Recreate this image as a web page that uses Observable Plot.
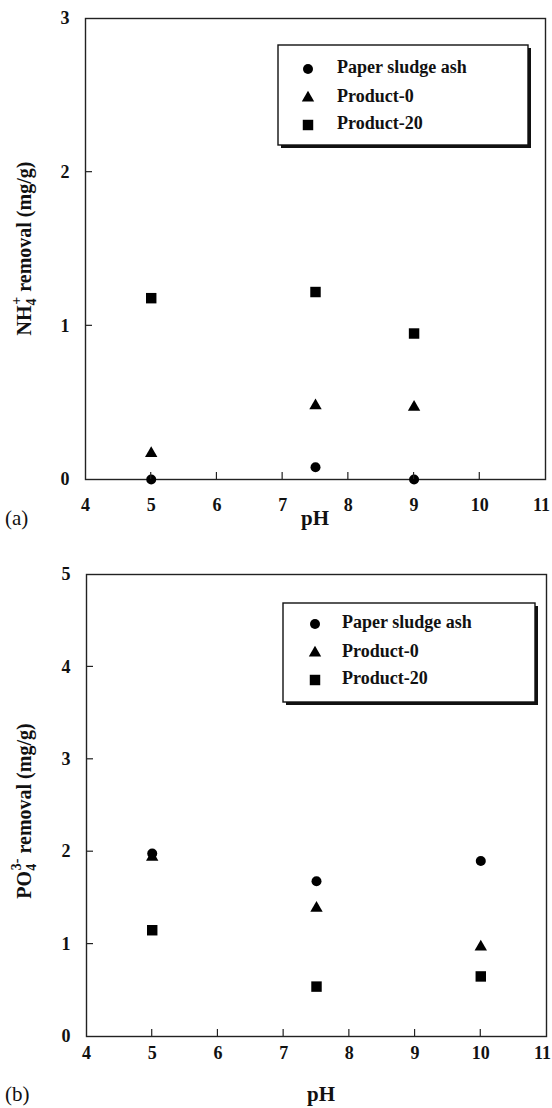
<!DOCTYPE html>
<html><head><meta charset="utf-8">
<script src="https://cdn.jsdelivr.net/npm/d3@7"></script>
<script src="https://cdn.jsdelivr.net/npm/@observablehq/plot@0.6"></script>
<style>
body{margin:0;background:#fff;}
#fig{width:552px;height:1108px;position:relative;background:#fff;}
#fig svg{display:block;position:absolute;left:0;overflow:visible;}
</style></head><body><div id="fig"></div>
<script>
// ---- data ----
const seriesNames = ["Paper sludge ash", "Product-0", "Product-20"];
const seriesSymbols = ["circle", "triangle", "square"];
const xTicks = [4, 5, 6, 7, 8, 9, 10, 11];

const pHA = [5, 7.5, 9];
const ashA = [0, 0.08, 0];
const p0A = [0.17, 0.48, 0.47];
const p20A = [1.18, 1.22, 0.95];
const yTicksA = [0, 1, 2, 3];

const pHB = [5, 7.5, 10];
const ashB = [1.98, 1.68, 1.90];
const p0B = [1.94, 1.39, 0.97];
const p20B = [1.15, 0.54, 0.65];
const yTicksB = [0, 1, 2, 3, 4, 5];

const FONT = "'Liberation Serif', 'Times New Roman', serif";
const symR = {"circle": 5, "triangle": 4.6, "square": 5.9};

function rowsOf(pH, lists) {
  const out = [];
  lists.forEach((vals, i) => vals.forEach((v, j) => out.push({pH: pH[j], value: v, series: seriesNames[i]})));
  return out;
}

function panel(cfg) {
  const rows = rowsOf(cfg.pH, cfg.lists);
  const plot = Plot.plot({
    width: 552, height: cfg.height,
    marginTop: cfg.mt, marginBottom: cfg.mb, marginLeft: cfg.ml, marginRight: cfg.mr,
    style: {fontFamily: FONT, fontSize: "18px", fontWeight: "bold", color: "#111", background: "transparent"},
    x: {domain: [4, 11]},
    y: {domain: cfg.yDomain},
    marks: [
      Plot.frame({stroke: "#222", strokeWidth: 1.4}),
      Plot.axisX({ticks: xTicks, tickSize: 0, tickPadding: cfg.xPad, tickFormat: d => String(d), label: null}),
      Plot.axisY({ticks: cfg.yTicks, tickSize: 0, tickPadding: 16, tickFormat: d => String(d), label: null}),
      ...seriesNames.map((s, i) => Plot.dot(rows.filter(d => d.series === s), {
        x: "pH", y: "value", symbol: () => seriesSymbols[i], fill: "black", stroke: "none", r: symR[seriesSymbols[i]]
      }))
    ]
  });
  plot.style.top = cfg.top + "px";
  const svg = d3.select(plot);
  const xs = plot.scale("x"), ys = plot.scale("y");
  const x0 = cfg.ml, x1 = 552 - cfg.mr, y0 = cfg.mt, y1 = cfg.height - cfg.mb;

  // keep the last x tick label inside the page
  svg.selectAll("g[aria-label='x-axis tick label'] text").filter(function () { return this.textContent === "11"; })
    .attr("dx", -4);

  // inward tick marks, positioned through the plot's scales
  const tk = svg.append("g").attr("stroke", "#222").attr("stroke-width", 1.2);
  xTicks.slice(1, -1).forEach(t => {
    const px = xs.apply(t);
    tk.append("line").attr("x1", px).attr("x2", px).attr("y1", y1).attr("y2", y1 - 7);
  });
  cfg.yTicks.slice(1, -1).forEach(t => {
    const py = ys.apply(t);
    tk.append("line").attr("x1", x0).attr("x2", x0 + 7).attr("y1", py).attr("y2", py);
  });

  // y label with sub/superscript
  const yl = svg.append("text")
    .attr("transform", `translate(${cfg.ylX},${(y0 + y1) / 2 + cfg.ylDy}) rotate(-90)`)
    .attr("text-anchor", "middle").attr("font-family", FONT).attr("font-weight", "bold")
    .attr("font-size", 20).attr("fill", "#111");
  yl.append("tspan").text(cfg.ion);
  yl.append("tspan").text("4").attr("font-size", 14).attr("dy", "0.35em");
  yl.append("tspan").text(cfg.charge).attr("font-size", 14).attr("dx", "-0.45em").attr("dy", "-1.05em");
  yl.append("tspan").text(" removal (mg/g)").attr("dy", "0.5em");

  // x label
  svg.append("text").text("pH")
    .attr("x", (x0 + x1) / 2 + cfg.pHdx).attr("y", cfg.pHy)
    .attr("text-anchor", "middle").attr("dominant-baseline", "middle")
    .attr("font-family", FONT).attr("font-weight", "bold").attr("font-size", 21).attr("fill", "#111");
  // panel letter
  svg.append("text").text(cfg.letter)
    .attr("x", 5).attr("y", cfg.pHy)
    .attr("text-anchor", "start").attr("dominant-baseline", "middle")
    .attr("font-family", FONT).attr("font-weight", "normal").attr("font-size", 21).attr("fill", "#111");

  // legend
  const L = cfg.legend;
  const g = svg.append("g");
  g.append("rect").attr("x", L.x + 3).attr("y", L.y + 3).attr("width", L.w).attr("height", L.h).attr("fill", "#111");
  g.append("rect").attr("x", L.x).attr("y", L.y).attr("width", L.w).attr("height", L.h)
    .attr("fill", "white").attr("stroke", "#111").attr("stroke-width", 1.4);
  seriesNames.forEach((s, i) => {
    const sym = {circle: d3.symbolCircle, triangle: d3.symbolTriangle, square: d3.symbolSquare}[seriesSymbols[i]];
    const r = symR[seriesSymbols[i]];
    g.append("path").attr("d", d3.symbol(sym, r * r * Math.PI)())
      .attr("transform", `translate(${L.x + L.mx},${L.y + L.rows[i]})`).attr("fill", "black");
    g.append("text").text(s).attr("x", L.x + L.tx).attr("y", L.y + L.rows[i])
      .attr("text-anchor", "start").attr("dominant-baseline", "middle")
      .attr("font-family", FONT).attr("font-weight", "bold")
      .attr("font-size", 18).attr("fill", "#111");
  });
  document.getElementById("fig").appendChild(plot);
}

panel({
  top: 0, height: 556, mt: 18, mb: 77, ml: 85, mr: 7, xPad: 19,
  pH: pHA, lists: [ashA, p0A, p20A], yDomain: [0, 3], yTicks: yTicksA,
  ion: "NH", charge: "+", ylX: 31, ylDy: 0, pHdx: 0, pHy: 520, letter: "(a)",
  legend: {x: 278, y: 45, w: 250, h: 100, mx: 30, tx: 59, rows: [24, 53, 80]}
});
panel({
  top: 556, height: 552, mt: 18, mb: 72, ml: 86, mr: 6, xPad: 10,
  pH: pHB, lists: [ashB, p0B, p20B], yDomain: [0, 5], yTicks: yTicksB,
  ion: "PO", charge: "3-", ylX: 31, ylDy: 6, pHdx: 5, pHy: 540, letter: "(b)",
  legend: {x: 283, y: 47, w: 252, h: 99, mx: 32, tx: 59, rows: [21, 50, 77]}
});
</script></body></html>
